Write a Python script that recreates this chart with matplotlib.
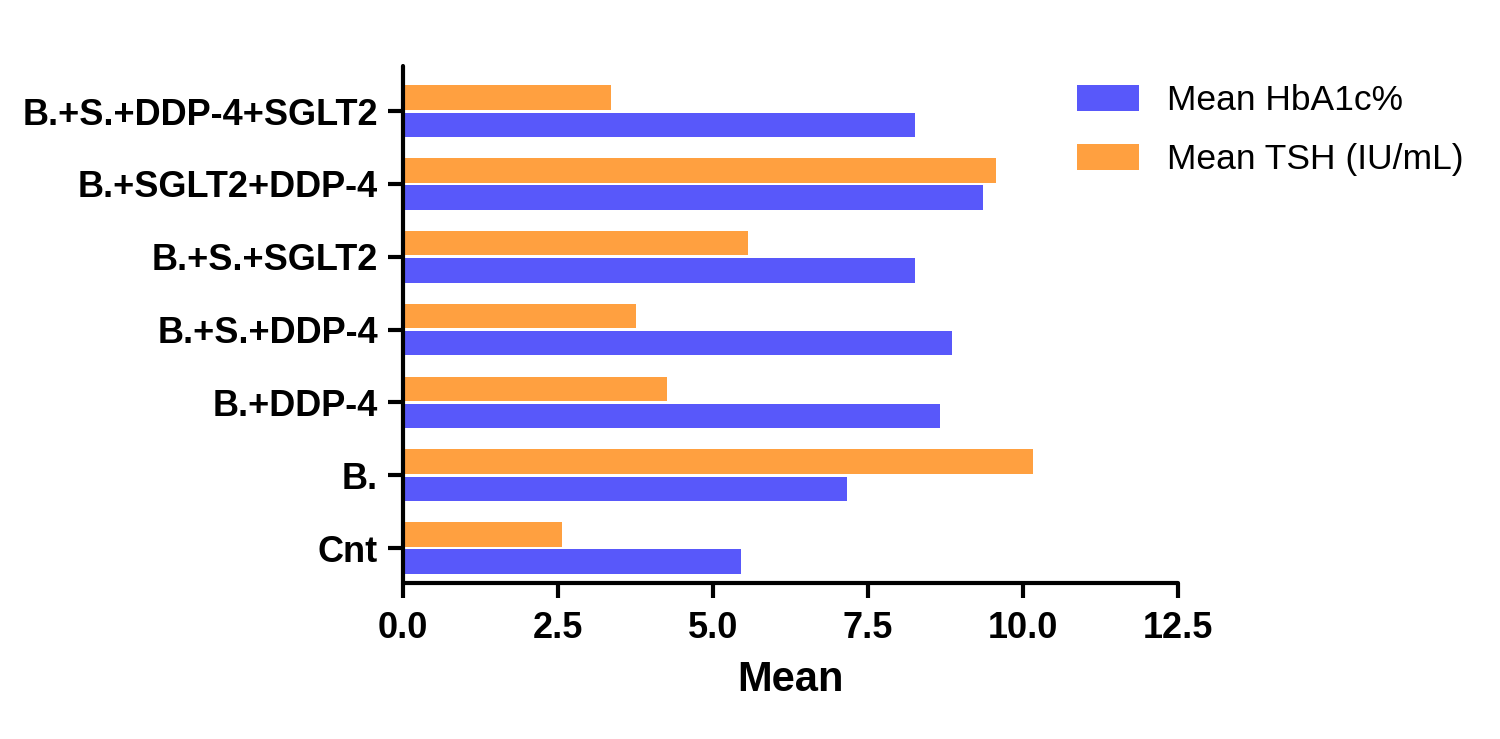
import matplotlib
matplotlib.use("Agg")
import matplotlib.pyplot as plt
import numpy as np

categories = ["Cnt", "B.", "B.+DDP-4", "B.+S.+DDP-4", "B.+S.+SGLT2",
              "B.+SGLT2+DDP-4", "B.+S.+DDP-4+SGLT2"]
hba1c = [5.45, 7.16, 8.66, 8.86, 8.26, 9.36, 8.26]
tsh = [2.56, 10.16, 4.26, 3.76, 5.57, 9.56, 3.35]
series_labels = ["Mean HbA1c%", "Mean TSH (IU/mL)"]
xticks = [0.0, 2.5, 5.0, 7.5, 10.0, 12.5]

plt.rcParams['font.family'] = ['Liberation Sans', 'DejaVu Sans']

fig = plt.figure(figsize=(15, 7.39), dpi=100)
ax = fig.add_axes([403/1500, 1-583/739, (1178-403)/1500, (583-66)/739])

y = np.arange(len(categories))
h = 0.335
off = 0.187
blue = "#5858FA"
orange = "#FFA040"
ax.barh(y - off, hba1c, height=h, color=blue, label=series_labels[0])
ax.barh(y + off, tsh, height=h, color=orange, label=series_labels[1])

ax.set_xlim(0, 12.5)
ax.set_ylim(-0.48, 6.62)
ax.set_xticks(xticks)
ax.set_xticklabels([f"{v:.1f}" for v in xticks])
ax.set_yticks(y)
ax.set_yticklabels(categories)

for s in ["top", "right"]:
    ax.spines[s].set_visible(False)
for s in ["left", "bottom"]:
    ax.spines[s].set_linewidth(3)
    ax.spines[s].set_capstyle('round')

ax.tick_params(axis='both', which='major', length=11, width=3, direction='out',
               labelsize=26)
ax.tick_params(axis='x', pad=9)
ax.tick_params(axis='y', pad=7)
for lab in ax.get_xticklabels() + ax.get_yticklabels():
    lab.set_fontweight('bold')

ax.set_xlabel("Mean", fontsize=30, fontweight='bold', labelpad=10)

leg = ax.legend(loc='upper left', bbox_to_anchor=(1077/1500, 1-84/739),
                bbox_transform=fig.transFigure, frameon=False, fontsize=25.5,
                handlelength=1.75, handleheight=0.76, handletextpad=0.79,
                labelspacing=0.74, borderpad=0, borderaxespad=0)

fig.savefig("out.png", dpi=100)
